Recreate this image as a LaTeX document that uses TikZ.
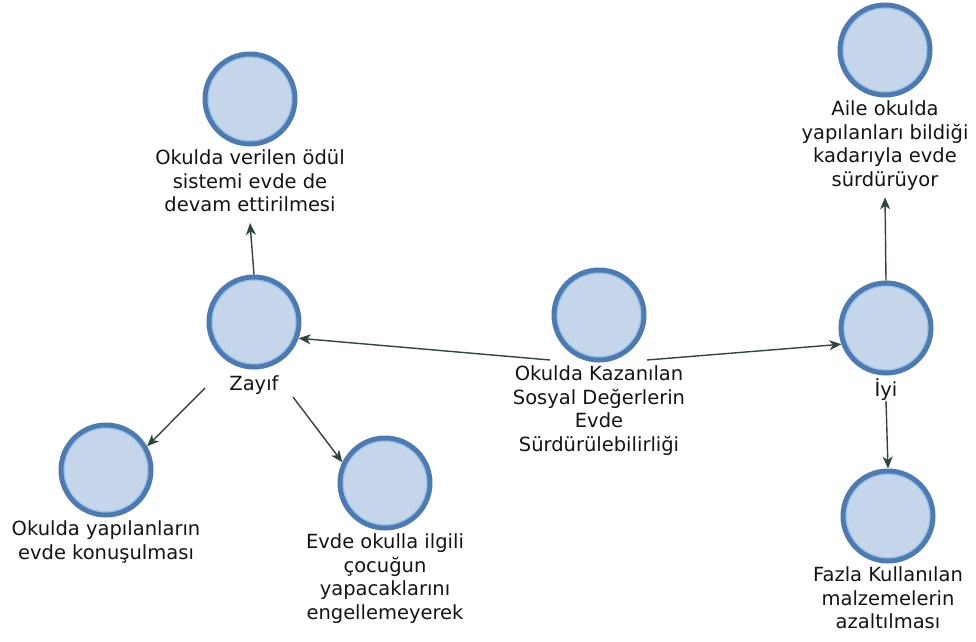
\documentclass[tikz,border=0pt]{standalone}
\usepackage{fontspec}
\setmainfont{DejaVu Sans}
\usetikzlibrary{arrows.meta,calc}
\definecolor{cfill}{RGB}{198,214,234}
\definecolor{cring}{RGB}{79,122,176}
\definecolor{chl}{RGB}{150,195,240}
\definecolor{carr}{RGB}{50,68,62}
\definecolor{ctext}{RGB}{20,20,20}
\begin{document}
\begin{tikzpicture}[x=1pt,y=-1pt,
  concept/.style={circle, draw=cring, fill=cfill, line width=5pt, minimum size=90pt, inner sep=0pt,
    path picture={\draw[chl,line width=1.2pt] (path picture bounding box.center) circle[radius=41.8pt];}},
  lab/.style={anchor=north, inner sep=0pt, align=center, text=ctext,
    font=\fontsize{19.5pt}{23.5pt}\selectfont, execute at begin node={\rule{0pt}{18pt}}},
  conn/.style={draw=carr, line width=1.4pt, -{Stealth[length=12pt,width=10pt,inset=3.5pt]}}]
\useasboundingbox[fill=white] (0,0) rectangle (976,641);

\node[concept] (tl) at (250,99) {};
\node[lab] (tllab) at ($(tl.south)+(0,3)$) {Okulda verilen ödül\\sistemi evde de\\devam ettirilmesi};

\node[concept] (zay) at (254,322) {};
\node[lab] (zaylab) at ($(zay.south)+(0,3)$) {Zayıf};

\node[concept] (bl) at (106,470) {};
\node[lab] (bllab) at ($(bl.south)+(0,3)$) {Okulda yapılanların\\evde konuşulması};

\node[concept] (bm) at (385,483) {};
\node[lab] (bmlab) at ($(bm.south)+(0,3)$) {Evde okulla ilgili\\çocuğun\\yapacaklarını\\engellemeyerek};

\node[concept] (cen) at (599,315) {};
\node[lab] (cenlab) at ($(cen.south)+(0,3)$) {Okulda Kazanılan\\Sosyal Değerlerin\\Evde\\Sürdürülebilirliği};

\node[concept] (iyi) at (886,328) {};
\node[lab] (iyilab) at ($(iyi.south)+(0,3)$) {İyi};

\node[concept] (tr) at (885,50) {};
\node[lab] (trlab) at ($(tr.south)+(0,3)$) {Aile okulda\\yapılanları bildiği\\kadarıyla evde\\sürdürüyor};

\node[concept] (br) at (888,516) {};
\node[lab] (brlab) at ($(br.south)+(0,3)$) {Fazla Kullanılan\\malzemelerin\\azaltılması};

\draw[conn] ($(cen)+(-49,45)$) -- (zay.-20);
\draw[conn] ($(cen)+(48,45)$) -- (iyi.200);
\draw[conn] (zay.north) -- ($(tllab.south)+(0,11)$);
\draw[conn] ($(zay)+(-49,66)$) -- (bl.30);
\draw[conn] ($(zay)+(39,75)$) -- (bm.154);
\draw[conn] (iyi.north) -- ($(trlab.south)+(0,7)$);
\draw[conn] (iyilab.south) -- (br.north);
\end{tikzpicture}
\end{document}
